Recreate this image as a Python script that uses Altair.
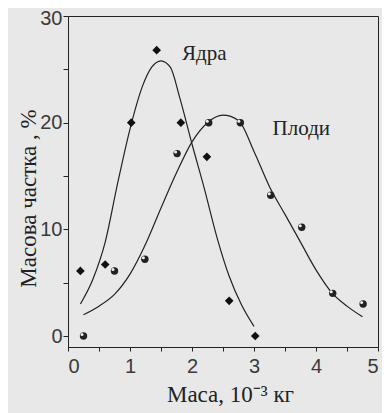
import altair as alt
import pandas as pd

# Measured points: Ядра (diamonds)
yadra_x = [0.2, 0.6, 1.02, 1.43, 1.82, 2.24, 2.6, 3.02]
yadra_y = [6.1, 6.7, 20.0, 26.8, 20.0, 16.8, 3.3, 0.0]

# Measured points: Плоди (circles)
plody_x = [0.25, 0.75, 1.24, 1.76, 2.27, 2.78, 3.27, 3.77, 4.27, 4.76]
plody_y = [0.0, 6.1, 7.2, 17.1, 20.0, 20.0, 13.2, 10.2, 4.0, 3.0]

# Fitted curves
yadra_cx = [0.2, 0.4, 0.6, 0.8, 1.0, 1.2, 1.35, 1.5, 1.65, 1.8, 2.0, 2.2, 2.4, 2.6, 2.8, 3.0]
yadra_cy = [3.0, 5.3, 8.8, 14.3, 19.4, 23.4, 25.2, 25.8, 25.2, 22.4, 18.0, 13.8, 9.3, 5.6, 2.9, 0.9]

plody_cx = [0.25, 0.5, 0.75, 1.0, 1.25, 1.5, 1.75, 2.0, 2.25, 2.5, 2.75, 3.0, 3.25, 3.5, 3.75, 4.0, 4.25, 4.5, 4.75]
plody_cy = [2.0, 2.8, 3.9, 5.8, 8.6, 12.0, 15.3, 18.2, 20.0, 20.7, 20.2, 17.3, 14.0, 11.4, 8.8, 6.2, 4.1, 2.8, 1.8]

labels_text = ["Ядра", "Плоди"]
labels_x = [1.84, 3.3]
labels_y = [26.4, 19.4]

pts_y = pd.DataFrame({"x": yadra_x, "y": yadra_y})
pts_p = pd.DataFrame({"x": plody_x, "y": plody_y})
cur_y = pd.DataFrame({"x": yadra_cx, "y": yadra_cy, "o": range(len(yadra_cx))})
cur_p = pd.DataFrame({"x": plody_cx, "y": plody_cy, "o": range(len(plody_cx))})
lab = pd.DataFrame({"t": labels_text, "x": labels_x, "y": labels_y})

xscale = alt.Scale(domain=[0, 5], nice=False, zero=False)
yscale = alt.Scale(domain=[-1.03, 30], nice=False, zero=False)

xaxis = alt.Axis(
    values=[0, 0.5, 1, 1.5, 2, 2.5, 3, 3.5, 4, 4.5, 5], format="~g",
    labelExpr="datum.value % 1 === 0 ? datum.label : ''",
    grid=False, tickSize=4, labelPadding=5,
    labelFont="Liberation Sans", labelFontSize=20, labelColor="#3a3a3a",
    domainColor="#222", tickColor="#222",
    title="Маса, 10⁻³ кг", titleFont="Liberation Serif", titleFontSize=23,
    titleFontWeight="normal", titleColor="#222",
    titleX=162, titleY=47, titleBaseline="middle", titleAlign="center",
)
yaxis = alt.Axis(
    values=[0, 5, 10, 15, 20, 25, 30], format="~g",
    labelExpr="datum.value % 10 === 0 ? datum.label : ''",
    labelOffset={"condition": {"test": "datum.value === 30", "value": 2}, "value": 0},
    grid=False, tickSize=5, labelPadding=1,
    labelFont="Liberation Sans", labelFontSize=20, labelColor="#3a3a3a",
    domainColor="#222", tickColor="#222",
    title="Масова частка , %", titleFont="Liberation Serif", titleFontSize=23,
    titleFontWeight="normal", titleColor="#222",
    titleX=-40, titleY=182, titleBaseline="middle", titleAlign="center", titleAngle=270,
)

X = alt.X("x:Q", scale=xscale, axis=xaxis)
Y = alt.Y("y:Q", scale=yscale, axis=yaxis)

line_y = alt.Chart(cur_y).mark_line(color="#222", strokeWidth=1.2, interpolate="monotone").encode(
    x=X, y=Y, order="o:Q")
line_p = alt.Chart(cur_p).mark_line(color="#222", strokeWidth=1.2, interpolate="monotone").encode(
    x=X, y=Y, order="o:Q")

dia = alt.Chart(pts_y).mark_point(shape="diamond", filled=True, color="#111", size=75, opacity=1).encode(x=X, y=Y)
circ = alt.Chart(pts_p).mark_point(shape="circle", filled=True, color="#222", size=55, opacity=1).encode(x=X, y=Y)
circ_hl = alt.Chart(pts_p).mark_point(shape="circle", filled=True, color="#f0f0f0", size=9, opacity=1,
                                      xOffset=-1.5, yOffset=-1.5).encode(x=X, y=Y)

txt = alt.Chart(lab).mark_text(font="Liberation Serif", fontSize=21, color="#222", align="left",
                               baseline="middle").encode(x=X, y=Y, text="t:N")

chart = alt.layer(line_y, line_p, dia, circ, circ_hl, txt).properties(
    width=310, height=331,
    autosize=alt.AutoSizeParams(type="none"),
    padding={"left": 60, "top": 8, "right": 4, "bottom": 66},
    background="#e8e8e8",
).configure_view(stroke="#222", strokeWidth=1)

chart.save("out.html", embed_options={"renderer": "svg", "actions": False})
